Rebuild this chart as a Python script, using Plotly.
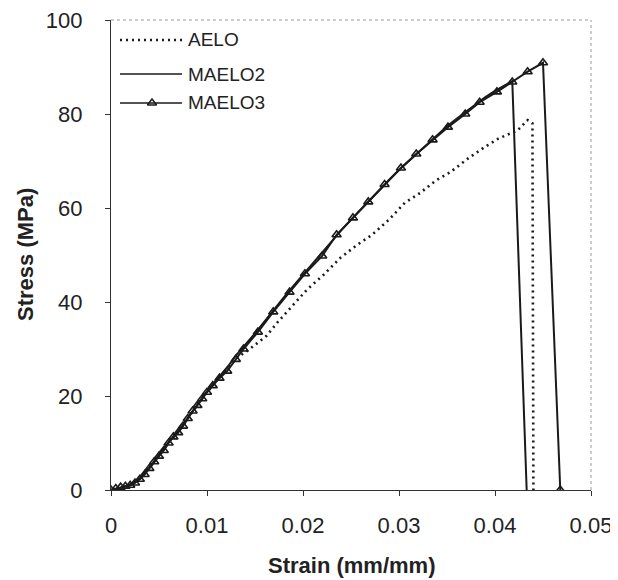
import plotly.graph_objects as go

# ---------------- data ----------------
aelo_strain = [0, 0.0010, 0.0020, 0.0030, 0.0040, 0.0050, 0.0060, 0.0070, 0.0080,
               0.0090, 0.0100, 0.0110, 0.0120, 0.0130, 0.0142, 0.0152, 0.0162,
               0.0174, 0.0190, 0.0204, 0.0221, 0.0239, 0.0256, 0.0272, 0.0289,
               0.0306, 0.0322, 0.0338, 0.0354, 0.0371, 0.0388, 0.0403, 0.0414,
               0.0423, 0.0434, 0.0439, 0.0440]
aelo_stress = [0, 0.5, 1.1, 2.4, 4.7, 7.3, 10.1, 12.4, 15.3,
               18.1, 20.8, 23.3, 25.6, 28.0, 29.6, 31.2, 32.8,
               35.8, 39.4, 42.6, 45.7, 49.4, 52.1, 54.3, 57.4,
               61.1, 63.2, 65.8, 67.7, 70.4, 72.8, 74.7, 75.7,
               76.4, 78.7, 78.0, 0]

maelo2_strain = [0, 0.001, 0.002, 0.003, 0.004, 0.005, 0.006, 0.007, 0.008, 0.009,
                 0.010, 0.011, 0.012, 0.013, 0.014, 0.015, 0.016, 0.017, 0.018,
                 0.019, 0.020, 0.021, 0.022, 0.023, 0.024, 0.025, 0.026, 0.027,
                 0.028, 0.029, 0.030, 0.031, 0.032, 0.033, 0.034, 0.035, 0.036,
                 0.037, 0.038, 0.039, 0.040, 0.041, 0.0418, 0.0433]
maelo2_stress = [0, 0.5, 1.2, 2.5, 4.8, 7.4, 10.2, 12.5, 15.4, 18.2,
                 21.0, 23.5, 25.8, 28.6, 30.9, 33.3, 35.9, 38.5, 41.0,
                 43.4, 45.8, 48.1, 50.5, 53.0, 55.3, 57.5, 59.7, 61.9,
                 64.0, 66.1, 68.1, 70.0, 71.9, 73.8, 75.7, 77.4, 79.0,
                 80.6, 82.2, 83.6, 84.9, 86.0, 87.0, 0]

maelo3_strain = [0, 0.0005, 0.0010, 0.0015, 0.0020, 0.0025, 0.0030, 0.0035, 0.0040,
                 0.0045, 0.0050, 0.0055, 0.0060, 0.0065, 0.0070, 0.0075, 0.0080,
                 0.0085, 0.0090, 0.0095, 0.0100, 0.0106, 0.0113, 0.0121, 0.0130,
                 0.0138, 0.0153, 0.0169, 0.0186, 0.0202, 0.0220, 0.0235, 0.0252,
                 0.0268, 0.0285, 0.0302, 0.0318, 0.0335, 0.0351, 0.0369, 0.0384,
                 0.0402, 0.0418, 0.0434, 0.0450, 0.0468]
maelo3_stress = [0, 0.3, 0.6, 0.8, 1.0, 1.5, 2.3, 3.3, 4.6,
                 6.0, 7.2, 8.4, 10.0, 11.3, 12.2, 13.6, 15.2,
                 16.8, 18.0, 19.4, 20.8, 22.2, 23.8, 25.3, 27.8,
                 30.0, 33.6, 37.9, 42.1, 46.0, 49.8, 54.3, 57.9,
                 61.3, 65.0, 68.5, 71.5, 74.5, 77.2, 80.0, 82.5,
                 84.7, 86.8, 89.0, 90.9, 0]

x_ticks = [0, 0.01, 0.02, 0.03, 0.04, 0.05]
x_tick_labels = ["0", "0.01", "0.02", "0.03", "0.04", "0.05"]
y_ticks = [0, 20, 40, 60, 80, 100]
y_tick_labels = ["0", "20", "40", "60", "80", "100"]

series_names = ["AELO", "MAELO2", "MAELO3"]
x_title = "Strain (mm/mm)"
y_title = "Stress (MPa)"

FONT = "Liberation Sans, Arial, sans-serif"
INK = "#1a1a1a"
TXT = "#222222"

fig = go.Figure()

fig.add_trace(go.Scatter(
    x=aelo_strain, y=aelo_stress, mode="lines", name=series_names[0],
    line=dict(color=INK, width=2.6, dash="2px,4px"), showlegend=False))
fig.add_trace(go.Scatter(
    x=maelo2_strain, y=maelo2_stress, mode="lines", name=series_names[1],
    line=dict(color=INK, width=2.0), showlegend=False))
fig.add_trace(go.Scatter(
    x=maelo3_strain, y=maelo3_stress, mode="lines+markers", name=series_names[2],
    line=dict(color=INK, width=2.0),
    marker=dict(symbol="triangle-up-open", size=8, color=INK, line=dict(width=1.6)),
    showlegend=False))

# ---- plot box in screen pixels (page body has an 8px margin) ----
OFF = 8
FIG_W, FIG_H = 618 - OFF, 580 - OFF
L, R, T, B = 111, 591, 20, 490
W, H = R - L, B - T

def px(xp):
    return (xp - L) / W

def py(yp):
    return (B - yp) / H

# ---- manual legend (paper coordinates) ----
legend_rows = [40, 74, 103]
dashes = ["dot", "solid", "solid"]
for name, yr, d in zip(series_names, legend_rows, dashes):
    fig.add_shape(type="line", xref="paper", yref="paper",
                  x0=px(120), x1=px(182), y0=py(yr), y1=py(yr),
                  line=dict(color=INK, width=2.4 if d == "dot" else 1.6,
                            dash="2px,4px" if d == "dot" else "solid"))
    fig.add_annotation(x=px(186), y=py(yr), xref="paper", yref="paper",
                       text=name, showarrow=False, xanchor="left", yanchor="middle",
                       font=dict(family=FONT, size=19, color=TXT))
# triangle marker on the MAELO3 legend sample
fig.add_trace(go.Scatter(
    x=[(152 - L) / W * 0.05], y=[(B - legend_rows[2]) / H * 100], mode="markers",
    marker=dict(symbol="triangle-up-open", size=8, color=INK, line=dict(width=1.5)),
    showlegend=False, hoverinfo="skip"))

# ---- axis titles as annotations ----
fig.add_annotation(x=0.5, y=(B - 565) / H, xref="paper", yref="paper",
                   text="<b>" + x_title + "</b>", showarrow=False,
                   xanchor="center", yanchor="middle",
                   font=dict(family=FONT, size=22, color=TXT))
fig.add_annotation(x=(25 - L) / W, y=(B - 255) / H, xref="paper", yref="paper",
                   text="<b>" + y_title + "</b>", showarrow=False, textangle=-90,
                   xanchor="center", yanchor="middle",
                   font=dict(family=FONT, size=22, color=TXT))

fig.update_layout(
    width=FIG_W, height=FIG_H,
    margin=dict(l=L - OFF, r=FIG_W - (R - OFF), t=T - OFF, b=FIG_H - (B - OFF),
                autoexpand=False),
    paper_bgcolor="white", plot_bgcolor="white",
    font=dict(family=FONT, size=22, color=TXT),
    showlegend=False,
    xaxis=dict(range=[0, 0.05], tickvals=x_ticks, ticktext=x_tick_labels,
               showgrid=False, zeroline=False, showline=True, linecolor="#333",
               linewidth=1.2, mirror=False, ticks="outside", ticklen=5,
               tickcolor="#333", tickfont=dict(size=22, color=TXT),
               ticklabelstandoff=10, ticklabeloverflow="allow", automargin=False),
    yaxis=dict(range=[0, 100], tickvals=y_ticks, ticktext=y_tick_labels,
               showgrid=False, zeroline=False, showline=True, linecolor="#333",
               linewidth=1.2, mirror=False, ticks="outside", ticklen=5,
               tickcolor="#333", tickfont=dict(size=22, color=TXT),
               ticklabelstandoff=18, ticklabeloverflow="allow", automargin=False),
)
# faint top/right frame
fig.add_shape(type="line", xref="paper", yref="paper", x0=0, x1=1, y0=1, y1=1,
              line=dict(color="#999", width=1, dash="dot"))
fig.add_shape(type="line", xref="paper", yref="paper", x0=1, x1=1, y0=0, y1=1,
              line=dict(color="#999", width=1, dash="dot"))

fig.write_html("out.html")
